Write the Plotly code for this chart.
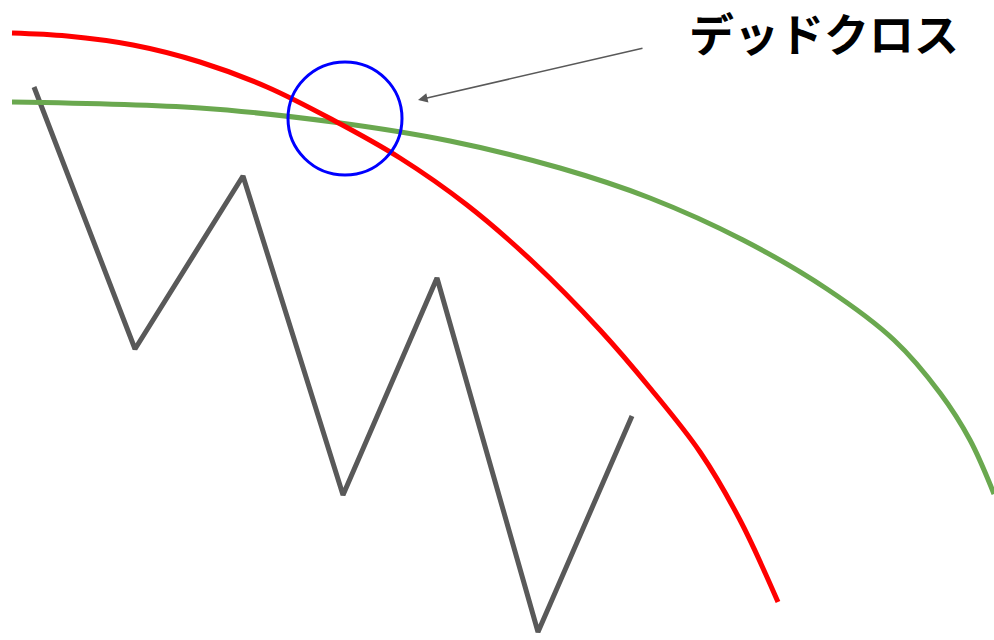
import plotly.graph_objects as go

# price line (zigzag)
price_x = [34, 135, 243, 343, 437, 538, 632]
price_y = [87, 349, 176, 495, 278, 632, 416]

# short moving average (red)
short_x = [12, 67, 133, 200, 267, 333, 400, 467, 533, 600, 650, 700, 740, 778]
short_y = [33, 36, 45, 62, 87, 120, 158, 205, 262, 330, 388, 452, 520, 602]

# long moving average (green)
long_x = [12, 200, 333, 450, 560, 650, 743, 827, 894, 940, 970, 994]
long_y = [102, 108, 122, 141, 168, 198, 240, 289, 340, 393, 440, 494]

label = "デッドクロス"

fig = go.Figure()

fig.add_trace(go.Scatter(x=price_x, y=price_y, mode="lines",
                         line=dict(color="#595959", width=5)))
fig.add_trace(go.Scatter(x=long_x, y=long_y, mode="lines", line_shape="spline",
                         line=dict(color="#6aa84f", width=5)))
fig.add_trace(go.Scatter(x=short_x, y=short_y, mode="lines", line_shape="spline",
                         line=dict(color="#ff0000", width=5)))

# circle around the cross
fig.add_shape(type="circle", xref="x", yref="y",
              x0=288, y0=62, x1=402, y1=175,
              line=dict(color="#0000ff", width=3))

# arrow
fig.add_annotation(x=418, y=100, ax=644, ay=48, xref="x", yref="y",
                   axref="x", ayref="y", text="", showarrow=True,
                   arrowhead=2, arrowsize=1.2, arrowwidth=1.6, arrowcolor="#595959")

fig.add_annotation(x=824, y=32, xref="x", yref="y", text="<b>" + label + "</b>",
                   showarrow=False,
                   font=dict(family="Noto Sans CJK JP", size=45, color="#000000"))

fig.update_xaxes(range=[0, 994], visible=False)
fig.update_yaxes(range=[640, 0], visible=False)
fig.update_layout(width=994, height=640, margin=dict(l=0, r=0, t=0, b=0),
                  plot_bgcolor="white", paper_bgcolor="white", showlegend=False)

fig.write_html("out.html", config={"displayModeBar": False},
               post_script="document.body.style.margin='0px';")
